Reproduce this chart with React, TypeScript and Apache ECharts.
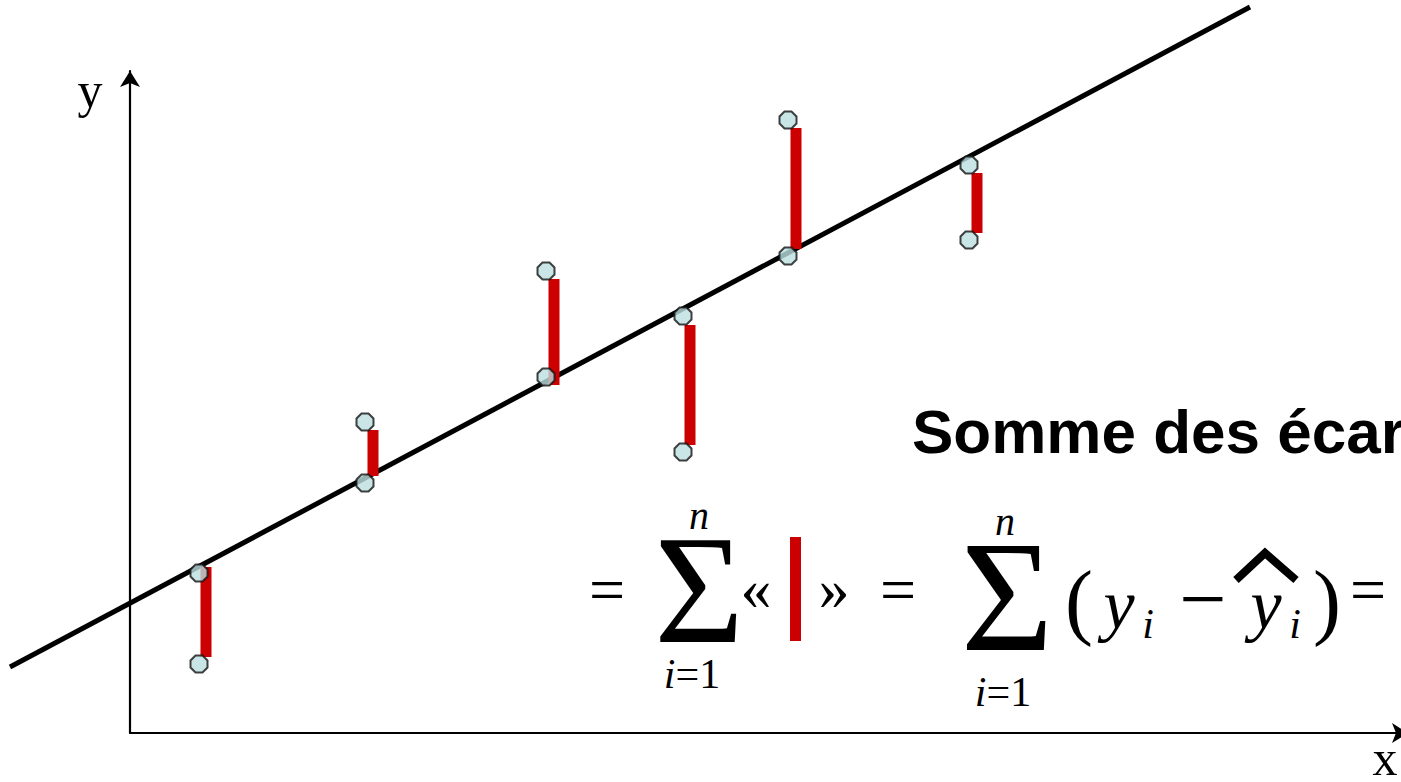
import React, { useEffect, useRef } from "react";
import * as echarts from "echarts";

// Data units are measured from the axes origin (x right, y up)
const pointX = [69, 235, 416, 553, 658, 839];
const observedY = [69, 311, 462, 281, 613, 493];
const fittedY = [160, 250, 356, 417, 477, 568];
const barX = [76, 243, 424, 560, 666, 847];
const barTop = [166, 303, 454, 408, 605, 560];
const barBottom = [76, 257, 348, 288, 484, 500];
const lineX = [-120, 1120];
const lineY = [66, 726];

const OCT = "path://M29.3,0 L70.7,0 L100,29.3 L100,70.7 L70.7,100 L29.3,100 L0,70.7 L0,29.3 Z";
const SERIF = "'Liberation Serif', 'Times New Roman', serif";

export default function App() {
  const ref = useRef<HTMLDivElement>(null);
  useEffect(() => {
    document.body.style.margin = "0";
    const chart = echarts.init(ref.current!, null, { renderer: "svg" });
    const pts: number[][] = [];
    pointX.forEach((x, i) => {
      pts.push([x, observedY[i]]);
      pts.push([x, fittedY[i]]);
    });
    const bars = barX.map((x, i) => [x, barTop[i], barBottom[i]]);
    const t = (text: string, x: number, y: number, size: number, extra: any = {}) => ({
      type: "text",
      x,
      y,
      style: {
        text,
        fontFamily: SERIF,
        fontSize: size,
        fill: "#000",
        align: "center",
        verticalAlign: "middle",
        ...extra,
      },
    });
    const idx = (x: number, y: number) => ({
      type: "text",
      x,
      y,
      style: {
        text: "{it|i}=1",
        fontFamily: SERIF,
        fontSize: 42,
        lineHeight: 36,
        fill: "#000",
        align: "center",
        verticalAlign: "middle",
        rich: { it: { fontStyle: "italic", fontFamily: SERIF, fontSize: 42, lineHeight: 36 } },
      },
    });
    chart.setOption({
      animation: false,
      backgroundColor: "#fff",
      grid: { left: 130, top: 71, right: 0, bottom: 49 },
      xAxis: {
        type: "value",
        min: 0,
        max: 1271,
        axisLine: {
          show: true,
          symbol: ["none", "arrow"],
          symbolSize: [15, 16],
          symbolOffset: [0, 7],
          lineStyle: { color: "#000", width: 2.2 },
        },
        axisTick: { show: false },
        axisLabel: { show: false },
        splitLine: { show: false },
      },
      yAxis: {
        type: "value",
        min: 0,
        max: 662,
        axisLine: { show: true, symbol: ["none", "arrow"], symbolSize: [15, 16], lineStyle: { color: "#000", width: 2.2 } },
        axisTick: { show: false },
        axisLabel: { show: false },
        splitLine: { show: false },
      },
      series: [
        {
          type: "custom",
          data: [[lineX[0], lineY[0], lineX[1], lineY[1]]],
          clip: false,
          z: 2,
          renderItem: (params: any, api: any) => {
            const a = api.coord([api.value(0), api.value(1)]);
            const b = api.coord([api.value(2), api.value(3)]);
            return {
              type: "line",
              shape: { x1: a[0], y1: a[1], x2: b[0], y2: b[1] },
              style: { stroke: "#000", lineWidth: 5 },
            };
          },
        },
        {
          type: "custom",
          data: bars,
          clip: false,
          z: 3,
          renderItem: (params: any, api: any) => {
            const a = api.coord([api.value(0), api.value(1)]);
            const b = api.coord([api.value(0), api.value(2)]);
            return {
              type: "rect",
              shape: { x: a[0] - 5.5, y: a[1], width: 11, height: b[1] - a[1] },
              style: { fill: "#cc0000" },
            };
          },
        },
        {
          type: "scatter",
          data: pts,
          symbol: OCT,
          symbolSize: 17,
          clip: false,
          z: 4,
          itemStyle: { color: "#bcdfe0", borderColor: "#111", borderWidth: 2 },
        },
      ],
      graphic: [
        t("y", 90, 90, 50),
        t("x", 1385, 758, 50),
        {
          type: "text",
          x: 912,
          y: 431,
          style: {
            text: "Somme des écarts",
            fontFamily: "'Liberation Sans', Arial, sans-serif",
            fontWeight: "bold",
            fontSize: 62,
            fill: "#000",
            align: "left",
            verticalAlign: "middle",
          },
        },
        t("=", 607, 589, 64),
        t("Σ", 699, 590, 154, { lineHeight: 104 }),
        t("n", 699, 515, 40, { fontStyle: "italic", lineHeight: 24 }),
        idx(692, 674),
        t("«", 756, 588, 62),
        { type: "rect", shape: { x: 790, y: 537, width: 11, height: 104 }, style: { fill: "#cc0000" } },
        t("»", 834, 588, 62),
        t("=", 898, 589, 64),
        t("Σ", 1007, 596, 159, { lineHeight: 108 }),
        t("n", 1005, 521, 40, { fontStyle: "italic", lineHeight: 24 }),
        idx(1003, 692),
        t("(", 1079, 600, 84),
        t("y", 1119, 604, 70, { fontStyle: "italic" }),
        t("i", 1148, 624, 42, { fontStyle: "italic" }),
        t("−", 1203, 598, 84),
        t("y", 1266, 604, 70, { fontStyle: "italic" }),
        {
          type: "polyline",
          shape: { points: [[1236, 580], [1265, 553], [1296, 580]] },
          style: { stroke: "#000", lineWidth: 8, fill: "none" },
        },
        t("i", 1295, 624, 42, { fontStyle: "italic" }),
        t(")", 1327, 600, 84),
        t("=", 1368, 589, 64),
      ],
    });
    return () => chart.dispose();
  }, []);
  return <div ref={ref} style={{ width: 1401, height: 782 }} />;
}
